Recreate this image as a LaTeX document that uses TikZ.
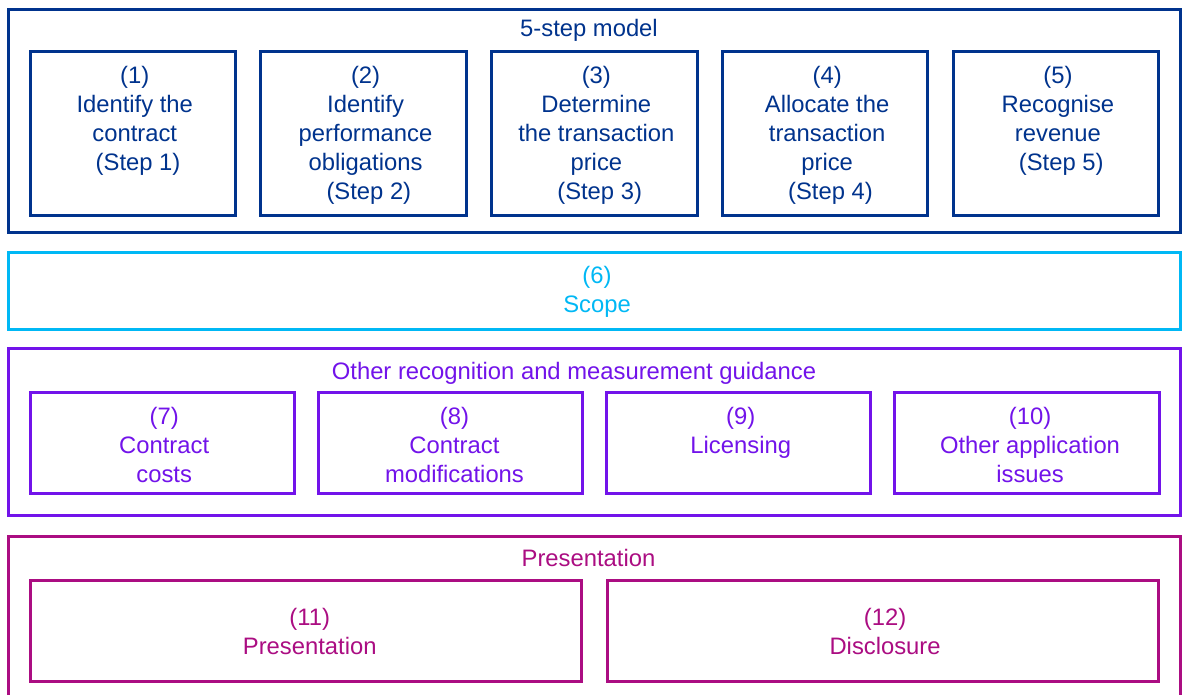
\documentclass[tikz,border=0pt]{standalone}
\usepackage{fontspec}
\setmainfont{Liberation Sans}
\definecolor{kblue}{HTML}{00338D}
\definecolor{kcyan}{HTML}{00B8F5}
\definecolor{kpurple}{HTML}{7213EA}
\definecolor{kpink}{HTML}{AB0D82}
\newcommand\diagfs{\fontsize{23.8}{29}\selectfont}
\begin{document}
\begin{tikzpicture}[x=1pt,y=-1pt,
  box/.style={draw=#1, line width=3pt, inner sep=0pt, rectangle},
  txt/.style={text=#1, inner sep=0pt, align=center, anchor=north, font=\diagfs},
  stepbox/.style={box=kblue, minimum width=205.5pt, minimum height=164pt},
  otherbox/.style={box=kpurple, minimum width=264.3pt, minimum height=101.7pt},
  presbox/.style={box=kpink, minimum width=551.5pt, minimum height=101pt}
]
\clip (0,0) rectangle (1187,695);
\fill[white] (0,0) rectangle (1187,695);

% 5-step model
\node[box=kblue, minimum width=1172pt, minimum height=222.5pt] (model) at (594,121.25) {};
\node[txt=kblue] (modelt) at (589,15.9) {\strut 5-step model};
\node[stepbox] (s1) at (132.75,133.3) {};
\node[stepbox] (s2) at (363.55,133.3) {};
\node[stepbox] (s3) at (594.35,133.3) {};
\node[stepbox] (s4) at (825.15,133.3) {};
\node[stepbox] (s5) at (1055.95,133.3) {};
\node[txt=kblue] (t1) at (134.75,63.2) {\strut(1)\\Identify the\\contract\\\ (Step 1)};
\node[txt=kblue] (t2) at (365.55,63.2) {\strut(2)\\Identify\\performance\\obligations\\\ (Step 2)};
\node[txt=kblue] (t3) at (596.35,63.2) {\strut(3)\\Determine\\the transaction\\price\\\ (Step 3)};
\node[txt=kblue] (t4) at (827.15,63.2) {\strut(4)\\Allocate the\\transaction\\price\\\ (Step 4)};
\node[txt=kblue] (t5) at (1057.95,63.2) {\strut(5)\\Recognise\\revenue\\\ (Step 5)};

% Scope
\node[box=kcyan, minimum width=1172pt, minimum height=77pt] (scope) at (594,291) {};
\node[txt=kcyan] (scopet) at (597,263.2) {\strut(6)\\Scope};

% Other recognition
\node[box=kpurple, minimum width=1172pt, minimum height=166.3pt] (other) at (594,431.85) {};
\node[txt=kpurple] (othert) at (574,359.2) {\strut Other recognition and measurement guidance};
\node[otherbox] (o7) at (162.15,442.85) {};
\node[otherbox] (o8) at (450.45,442.85) {};
\node[otherbox] (o9) at (738.75,442.85) {};
\node[otherbox] (o10) at (1027.05,442.85) {};
\node[txt=kpurple] (t7) at (164.15,403.7) {\strut(7)\\Contract\\costs};
\node[txt=kpurple] (t8) at (454.45,403.7) {\strut(8)\\Contract\\modifications};
\node[txt=kpurple] (t9) at (740.75,403.7) {\strut(9)\\Licensing};
\node[txt=kpurple] (t10) at (1030.05,403.7) {\strut(10)\\Other application\\issues};

% Presentation
\node[box=kpink, minimum width=1172pt, minimum height=162pt] (pres) at (594,617) {};
\node[txt=kpink] (prest) at (588.5,545.7) {\strut Presentation};
\node[presbox] (p11) at (305.75,630.5) {};
\node[presbox] (p12) at (883.1,630.5) {};
\node[txt=kpink] (t11) at (309.75,604.7) {\strut(11)\\Presentation};
\node[txt=kpink] (t12) at (885.1,604.7) {\strut(12)\\Disclosure};
\end{tikzpicture}
\end{document}
